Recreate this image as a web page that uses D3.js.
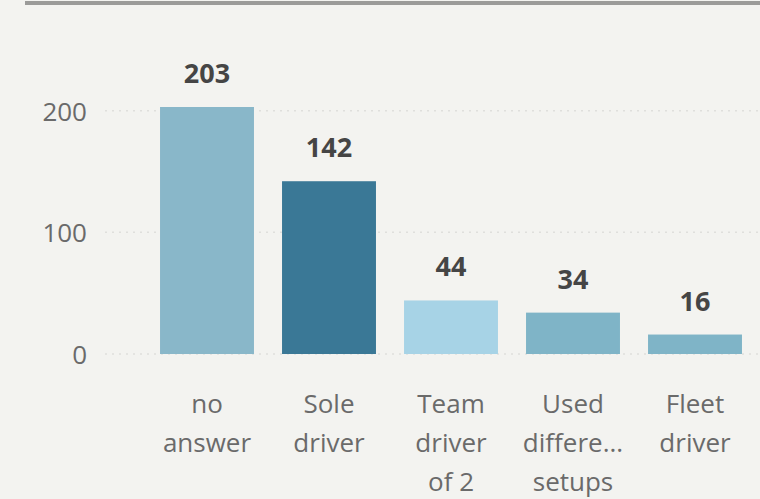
<!DOCTYPE html>
<html><head><meta charset="utf-8">
<script src="https://cdn.jsdelivr.net/npm/d3@7"></script>
<style>
html,body{margin:0;padding:0;background:#f3f3f0;}
svg{display:block;}
</style></head>
<body>
<svg id="chart" width="760" height="499"></svg>
<script>
const categories = ["no answer","Sole driver","Team driver of 2","Used different setups","Fleet driver"];
const categoryLines = [["no","answer"],["Sole","driver"],["Team","driver","of 2"],["Used","differe...","setups"],["Fleet","driver"]];
const values = [203,142,44,34,16];
const barColors = ["#89b7c9","#3a7896","#a7d3e6","#7fb4c7","#7fb4c7"];
const yTicks = [0,100,200];

const svg = d3.select("#chart");
const font = "'Open Sans', 'Noto Sans', sans-serif";

// top rule
svg.append("rect").attr("x",25).attr("y",1).attr("width",735).attr("height",4).attr("fill","#9b9b99");

const x = d3.scaleBand().domain(categories).range([146,756]).paddingInner(0.23).paddingOuter(0.115);
const y = d3.scaleLinear().domain([0,203]).range([354,107]);

// gridlines
svg.append("g").selectAll("line").data(yTicks).join("line")
  .attr("x1",105).attr("x2",760)
  .attr("y1",d=>y(d)).attr("y2",d=>y(d))
  .attr("stroke","#dfdfdc").attr("stroke-width",1.5).attr("stroke-dasharray","2,5");

// y axis
const yAxis = d3.axisLeft(y).tickValues(yTicks).tickSize(0).tickPadding(0);
const ya = svg.append("g").attr("transform","translate(87,0)").call(yAxis);
ya.select(".domain").remove();
ya.selectAll("text").attr("font-family",font).attr("font-size",26).attr("fill","#6a6a6a").attr("dy","0.36em");

// bars
svg.append("g").selectAll("rect").data(values).join("rect")
  .attr("x",(d,i)=>x(categories[i]))
  .attr("width",x.bandwidth())
  .attr("y",d=>y(d))
  .attr("height",d=>y(0)-y(d))
  .attr("fill",(d,i)=>barColors[i]);

// value labels
svg.append("g").selectAll("text").data(values).join("text")
  .attr("x",(d,i)=>x(categories[i])+x.bandwidth()/2)
  .attr("y",d=>y(d)-24)
  .attr("text-anchor","middle")
  .attr("font-family",font).attr("font-size",27).attr("font-weight","bold")
  .attr("fill","#454545")
  .text(d=>d);

// x axis labels
const xg = svg.append("g");
categories.forEach((c,i)=>{
  const t = xg.append("text")
    .attr("x",x(c)+x.bandwidth()/2)
    .attr("y",413)
    .attr("text-anchor","middle")
    .attr("font-family",font).attr("font-size",26).attr("fill","#6a6a6a");
  categoryLines[i].forEach((ln,j)=>{
    t.append("tspan").attr("x",x(c)+x.bandwidth()/2).attr("y",413+j*39).text(ln);
  });
});
</script>
</body></html>
